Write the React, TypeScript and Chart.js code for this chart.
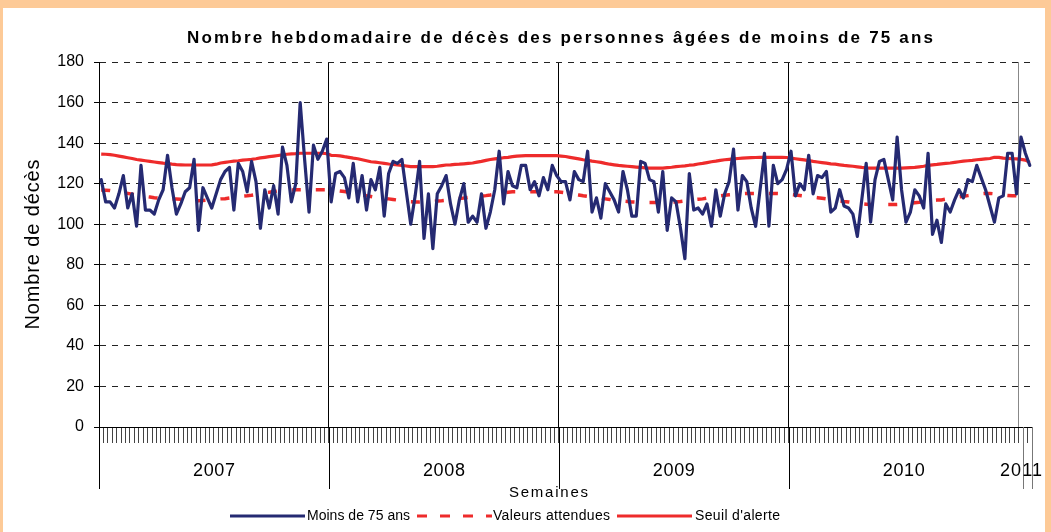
import React, { useEffect, useRef } from 'react';
import { Chart, registerables } from 'chart.js';

Chart.register(...registerables);

const chartTitle = 'Nombre hebdomadaire de décès des personnes âgées de moins de 75 ans';
const yAxisTitle = 'Nombre de décès';
const xAxisTitle = 'Semaines';
const years = ['2007', '2008', '2009', '2010', '2011'];
const weeksPerYear = [52, 52, 52, 52, 3];
const yMin = 0;
const yMax = 180;
const yStep = 20;
const seriesNames = ['Moins de 75 ans', 'Valeurs attendues', "Seuil d'alerte"];

const deaths = [
  122, 111, 111, 108, 115, 124, 108, 115, 99, 129,
  107, 107, 105, 112, 117, 134, 118, 105, 110, 116,
  118, 132, 97, 118, 113, 108, 115, 122, 126, 128,
  107, 130, 126, 116, 131, 121, 98, 117, 108, 119,
  105, 138, 129, 111, 120, 160, 132, 106, 139, 132,
  136, 142, 111, 125, 126, 123, 113, 130, 111, 124,
  107, 122, 117, 128, 104, 125, 131, 130, 132, 116,
  100, 114, 131, 93, 115, 88, 115, 119, 124, 110,
  100, 112, 120, 101, 104, 101, 115, 98, 106, 117,
  136, 110, 126, 119, 118, 129, 129, 117, 121, 114,
  123, 117, 129, 124, 121, 121, 112, 126, 122, 121,
  136, 106, 113, 103, 120, 116, 112, 106, 126, 117,
  104, 104, 131, 130, 122, 121, 106, 126, 97, 113,
  111, 98, 83, 125, 107, 108, 105, 110, 99, 117,
  104, 115, 121, 137, 107, 124, 121, 108, 99, 117,
  135, 99, 129, 120, 122, 127, 136, 114, 120, 117,
  134, 115, 124, 123, 126, 106, 108, 117, 109, 108,
  105, 94, 112, 130, 101, 122, 131, 132, 122, 112,
  143, 117, 101, 106, 117, 114, 108, 135, 95, 102,
  91, 110, 106, 112, 117, 113, 122, 121, 129, 123,
  117, 109, 101, 113, 114, 135, 135, 115, 143, 135, 129,
];

const expected = [
  116.9, 116.8, 116.6, 116.3, 116, 115.6, 115.2, 114.8, 114.4, 114,
  113.7, 113.4, 113.1, 112.9, 112.7, 112.6, 112.5, 112.4, 112.3, 112.2,
  112, 111.8, 111.6, 111.7, 111.9, 112.1, 112.3, 112.5, 112.6, 112.9,
  113.2, 113.5, 113.8, 114, 114.3, 114.7, 115.1, 115.5, 115.8, 116.1,
  116.4, 116.6, 116.8, 116.9, 117, 117, 117, 117, 117, 117,
  117, 117, 116.9, 116.7, 116.4, 116.1, 115.7, 115.2, 114.8, 114.4,
  114, 113.7, 113.3, 113, 112.8, 112.5, 112.2, 111.9, 111.6, 111.3,
  111.1, 111, 111, 111.1, 111.2, 111.3, 111.5, 111.6, 111.8, 112.1,
  112.4, 112.7, 112.9, 113.2, 113.5, 113.7, 113.9, 114.1, 114.4, 114.8,
  115.2, 115.5, 115.8, 116, 116, 116, 116, 116, 116, 116,
  116, 116, 116, 116, 115.8, 115.5, 115.1, 114.7, 114.4, 114,
  113.7, 113.4, 113.1, 112.8, 112.5, 112.2, 111.9, 111.6, 111.4, 111.2,
  111, 110.9, 110.8, 110.7, 110.7, 110.7, 110.7, 110.8, 110.9, 111,
  111, 111.2, 111.5, 111.8, 112.1, 112.3, 112.5, 112.9, 113.3, 113.7,
  114, 114.3, 114.5, 114.7, 114.9, 115.1, 115.2, 115.2, 115.2, 115.2,
  115.2, 115.2, 115.2, 115.1, 115, 114.8, 114.6, 114.4, 114.2, 113.9,
  113.6, 113.4, 113.1, 112.8, 112.5, 112.1, 111.8, 111.5, 111.2, 111,
  110.7, 110.4, 110.1, 109.9, 109.7, 109.7, 109.7, 109.7, 109.7, 109.7,
  109.7, 109.8, 110, 110.3, 110.6, 110.8, 111.1, 111.4, 111.7, 111.9,
  112, 112.4, 112.8, 113.1, 113.5, 113.8, 114.1, 114.4, 114.7, 115,
  115.2, 115.2, 115, 114.7, 114.4, 114.2, 114, 114, 114, 114, 114,
];

const alertLevel = [
  134.6, 134.5, 134.3, 134, 133.6, 133.2, 132.8, 132.4, 131.9, 131.6,
  131.3, 131, 130.7, 130.4, 130.1, 129.9, 129.6, 129.4, 129.3, 129.2,
  129.2, 129.2, 129.2, 129.2, 129.2, 129.3, 129.6, 130.2, 130.5, 130.8,
  131.1, 131.3, 131.6, 131.8, 132, 132.3, 132.7, 133, 133.3, 133.6,
  133.9, 134.2, 134.5, 134.7, 134.8, 135, 135, 135, 135, 135,
  135, 134.8, 134, 133.9, 133.7, 133.3, 133, 132.6, 132.3, 131.8,
  131.3, 130.8, 130.6, 130.3, 130, 129.7, 129.5, 129.2, 129, 128.7,
  128.4, 128.4, 128.4, 128.4, 128.4, 128.4, 128.6, 128.9, 129.2, 129.3,
  129.5, 129.6, 129.8, 130, 130.2, 130.6, 131, 131.5, 131.9, 132.2,
  132.5, 132.8, 133, 133.3, 133.6, 133.7, 133.8, 133.8, 133.8, 133.8,
  133.8, 133.8, 133.8, 133.8, 133.6, 133.4, 133, 132.6, 132.2, 131.8,
  131.5, 131.1, 130.8, 130.5, 130, 129.6, 129.3, 129, 128.8, 128.6,
  128.4, 128.2, 128, 127.8, 127.7, 127.7, 127.7, 127.7, 127.9, 128.1,
  128.4, 128.6, 128.8, 129.1, 129.3, 129.7, 130, 130.4, 130.8, 131.1,
  131.5, 131.8, 132, 132.2, 132.4, 132.6, 132.7, 132.8, 132.9, 133,
  133, 133, 133, 133, 133, 132.9, 132.6, 132.3, 132, 131.7,
  131.4, 131, 130.7, 130.4, 130.1, 129.8, 129.6, 129.3, 129, 128.8,
  128.6, 128.3, 128, 127.8, 127.7, 127.7, 127.7, 127.7, 127.7, 127.7,
  127.7, 127.7, 127.8, 127.9, 128, 128.3, 128.6, 129, 129.3, 129.5,
  129.8, 130, 130.2, 130.5, 130.8, 131.1, 131.3, 131.5, 131.8, 132,
  132.2, 132.4, 133, 133, 132.6, 132.5, 132.3, 132.2, 132, 131.6, 130.5,
];

const weekLabels: string[] = [];
const yearStarts: number[] = [];
years.forEach((y, k) => {
  yearStarts.push(weekLabels.length);
  for (let w = 1; w <= weeksPerYear[k]; w++) weekLabels.push(`${y}-S${w}`);
});

const NAVY = '#252a72';
const RED = '#ee2b2b';
const FONT = '"Liberation Sans", Arial, Helvetica, sans-serif';

function fitText(ctx: CanvasRenderingContext2D, text: string, font: string, left: number, y: number, width: number) {
  ctx.save();
  ctx.font = font;
  (ctx as any).letterSpacing = '0px';
  const w = ctx.measureText(text).width;
  const sp = text.length > 1 ? (width - w) / (text.length - 1) : 0;
  (ctx as any).letterSpacing = `${sp}px`;
  ctx.textAlign = 'left';
  ctx.textBaseline = 'middle';
  ctx.fillStyle = '#000';
  ctx.fillText(text, left, y);
  ctx.restore();
}

const decorPlugin = {
  id: 'decor',
  afterDraw(chart: any) {
    const ctx: CanvasRenderingContext2D = chart.ctx;
    const xs = chart.scales.x;
    const area = chart.chartArea;
    const band = xs.getPixelForValue(1) - xs.getPixelForValue(0);
    const edge = (i: number) => xs.getPixelForValue(0) + (i - 0.5) * band;
    const crisp = (v: number) => Math.round(v) + 0.5;

    ctx.save();
    ctx.lineWidth = 1;
    const seps: [number, string][] = [
      [0, '#000'], [yearStarts[1], '#000'], [yearStarts[2], '#000'], [yearStarts[3], '#000'],
      [yearStarts[4] + 1, '#777'], [weekLabels.length, '#777'],
    ];
    seps.forEach(([i, c]) => {
      const x = crisp(edge(i));
      ctx.strokeStyle = c;
      ctx.beginPath();
      ctx.moveTo(x, area.bottom);
      ctx.lineTo(x, 489);
      ctx.stroke();
    });
    ctx.restore();

    years.forEach((y, k) => {
      const l = edge(yearStarts[k]);
      const r = edge(yearStarts[k] + weeksPerYear[k]);
      const cx = k === years.length - 1 ? xs.getPixelForValue(yearStarts[k]) : (l + r) / 2;
      fitText(ctx, y, `18px ${FONT}`, cx - 21, 471, 42);
    });

    fitText(ctx, xAxisTitle, `15px ${FONT}`, 509, 493, 79);

    fitText(ctx, chartTitle, `bold 17px ${FONT}`, 187, 38, 746);

    ctx.save();
    ctx.translate(33, (area.top + area.bottom) / 2);
    ctx.rotate(-Math.PI / 2);
    fitText(ctx, yAxisTitle, `20px ${FONT}`, -85, 0, 170);
    ctx.restore();

    const ly = 516;
    ctx.save();
    ctx.lineWidth = 3;
    ctx.strokeStyle = NAVY;
    ctx.beginPath(); ctx.moveTo(230, ly); ctx.lineTo(305, ly); ctx.stroke();
    ctx.strokeStyle = RED;
    ctx.setLineDash([10, 13]);
    ctx.beginPath(); ctx.moveTo(417, ly); ctx.lineTo(492, ly); ctx.stroke();
    ctx.setLineDash([]);
    ctx.beginPath(); ctx.moveTo(617, ly); ctx.lineTo(692, ly); ctx.stroke();
    ctx.restore();
    fitText(ctx, seriesNames[0], `14px ${FONT}`, 307, ly, 103);
    fitText(ctx, seriesNames[1], `14px ${FONT}`, 493, ly, 117);
    fitText(ctx, seriesNames[2], `14px ${FONT}`, 695, ly, 85);
  },
};

export default function App() {
  const ref = useRef<HTMLCanvasElement | null>(null);
  useEffect(() => {
    if (!ref.current) return;
    const chart = new Chart(ref.current, {
      type: 'line',
      data: {
        labels: weekLabels,
        datasets: [
          {
            label: seriesNames[0], data: deaths, borderColor: NAVY, borderWidth: 3.2,
            pointRadius: 0, borderJoinStyle: 'round', borderCapStyle: 'round', fill: false,
          },
          {
            label: seriesNames[1], data: expected, borderColor: RED, borderWidth: 3.5,
            borderDash: [9, 15], pointRadius: 0, fill: false,
          },
          {
            label: seriesNames[2], data: alertLevel, borderColor: RED, borderWidth: 3.2,
            pointRadius: 0, fill: false, borderJoinStyle: 'round',
          },
        ],
      },
      options: {
        responsive: false,
        animation: false,
        events: [],
        layout: { padding: { left: 0, top: 62, right: 19, bottom: 89 } },
        plugins: { legend: { display: false }, title: { display: false }, tooltip: { enabled: false } },
        scales: {
          x: {
            type: 'category',
            offset: true,
            afterFit: (s: any) => { s.height = 16; },
            ticks: { display: false, autoSkip: false },
            grid: {
              offset: true,
              drawOnChartArea: true,
              lineWidth: 1,
              color: (c: any) => {
                const i = c.index;
                if (i === yearStarts[1] || i === yearStarts[2] || i === yearStarts[3]) return '#000';
                if (i === yearStarts[4]) return '#888';
                return 'rgba(0,0,0,0)';
              },
              tickLength: 16,
              tickColor: '#444',
              tickWidth: 1,
            },
            border: { display: true, color: '#000', width: 1 },
          },
          y: {
            min: yMin,
            max: yMax,
            afterFit: (s: any) => { s.width = 99; },
            ticks: { stepSize: yStep, color: '#000', padding: 10, font: { size: 16, family: FONT } },
            grid: { color: '#222', lineWidth: 1, tickLength: 5, tickColor: '#000' },
            border: { display: true, color: '#000', width: 1, dash: [6, 6] },
          },
        },
      },
      plugins: [decorPlugin],
    });
    return () => chart.destroy();
  }, []);

  return (
    <div style={{ position: 'fixed', left: 0, top: 0, width: 1051, height: 532, background: '#fdca97', overflow: 'hidden' }}>
      <div style={{ position: 'absolute', left: 3, top: 8, width: 1042, height: 530, background: '#fff' }} />
      <canvas ref={ref} width={1051} height={532} style={{ position: 'absolute', left: 0, top: 0, width: 1051, height: 532 }} />
    </div>
  );
}
